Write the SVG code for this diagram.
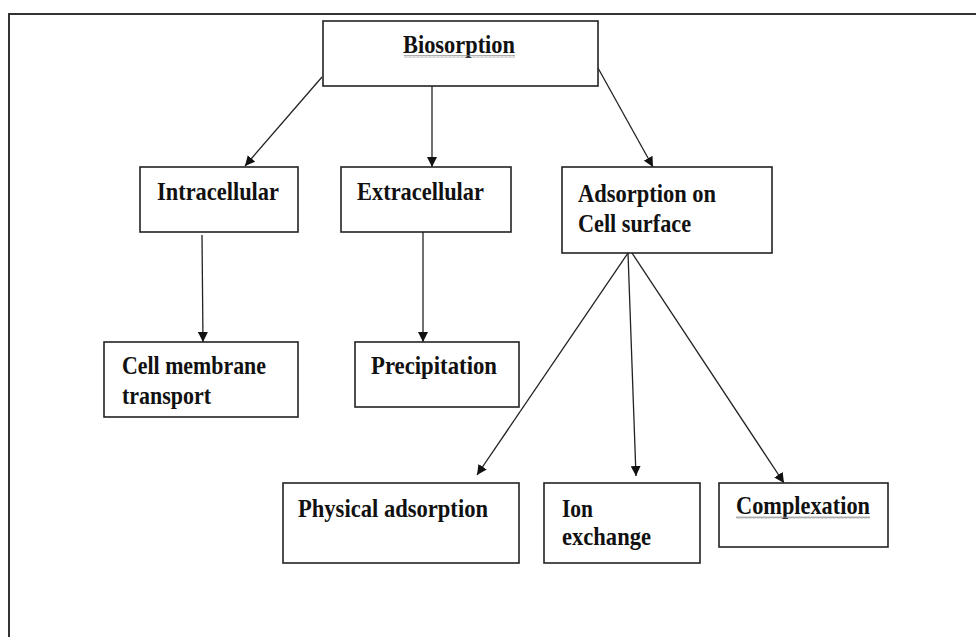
<svg xmlns="http://www.w3.org/2000/svg" width="976" height="637" viewBox="0 0 976 637">
<defs>
<marker id="ah" viewBox="0 0 10 10" refX="10" refY="5" markerWidth="10" markerHeight="10" markerUnits="userSpaceOnUse" orient="auto">
<path d="M0,0 L10,5 L0,10 Z" fill="#111"/>
</marker>
<pattern id="wave" width="4" height="3" patternUnits="userSpaceOnUse">
<path d="M0,2.5 L1,0.5 L2,2.5 L3,0.5 L4,2.5" fill="none" stroke="#888" stroke-width="0.7"/>
</pattern>
</defs>
<style>
.box{fill:#fff;stroke:#222;stroke-width:1.6}
.t{font-family:"Liberation Serif","Times New Roman",serif;font-weight:bold;font-size:26px;fill:#111}
.c{stroke:#222;stroke-width:1.3;fill:none;marker-end:url(#ah)}
.frame{stroke:#333;stroke-width:2;fill:none}
</style>
<rect width="976" height="637" fill="#fff"/>
<path class="frame" d="M9,637 L9,14 L976,14"/>
<g id="connectors">
<line class="c" x1="322" y1="77" x2="245" y2="166"/>
<line class="c" x1="432" y1="86" x2="432" y2="167"/>
<line class="c" x1="598" y1="68" x2="653" y2="167"/>
<line class="c" x1="202" y1="235" x2="203" y2="342"/>
<line class="c" x1="423" y1="232" x2="423" y2="342"/>
<line class="c" x1="628" y1="253" x2="477" y2="475"/>
<line class="c" x1="628" y1="253" x2="636" y2="476"/>
<line class="c" x1="632" y1="253" x2="784" y2="483"/>
</g>
<g id="biosorption">
<rect class="box" x="323" y="21" width="275" height="65"/>
<text class="t" x="403" y="53" textLength="112" lengthAdjust="spacingAndGlyphs">Biosorption</text>
<rect x="404" y="55" width="111" height="3" fill="url(#wave)"/>
</g>
<g id="intracellular">
<rect class="box" x="140" y="167" width="158" height="65"/>
<text class="t" x="157" y="200" textLength="122" lengthAdjust="spacingAndGlyphs">Intracellular</text>
</g>
<g id="extracellular">
<rect class="box" x="341" y="167" width="170" height="65"/>
<text class="t" x="357" y="200" textLength="127" lengthAdjust="spacingAndGlyphs">Extracellular</text>
</g>
<g id="adsorption">
<rect class="box" x="562" y="167" width="210" height="86"/>
<text class="t" x="578" y="202" textLength="138" lengthAdjust="spacingAndGlyphs">Adsorption on</text>
<text class="t" x="578" y="232" textLength="113" lengthAdjust="spacingAndGlyphs">Cell surface</text>
</g>
<g id="cell-membrane">
<rect class="box" x="104" y="342" width="194" height="75"/>
<text class="t" x="122" y="374" textLength="144" lengthAdjust="spacingAndGlyphs">Cell membrane</text>
<text class="t" x="122" y="404" textLength="89" lengthAdjust="spacingAndGlyphs">transport</text>
</g>
<g id="precipitation">
<rect class="box" x="355" y="342" width="164" height="65"/>
<text class="t" x="371" y="374" textLength="126" lengthAdjust="spacingAndGlyphs">Precipitation</text>
</g>
<g id="physical">
<rect class="box" x="283" y="483" width="236" height="80"/>
<text class="t" x="298" y="517" textLength="190" lengthAdjust="spacingAndGlyphs">Physical adsorption</text>
</g>
<g id="ion">
<rect class="box" x="544" y="483" width="156" height="80"/>
<text class="t" x="562" y="517" textLength="31" lengthAdjust="spacingAndGlyphs">Ion</text>
<text class="t" x="562" y="545" textLength="89" lengthAdjust="spacingAndGlyphs">exchange</text>
</g>
<g id="complexation">
<rect class="box" x="719" y="483" width="169" height="64"/>
<text class="t" x="736" y="514" textLength="134" lengthAdjust="spacingAndGlyphs">Complexation</text>
<rect x="736" y="516" width="134" height="3" fill="url(#wave)"/>
</g>
</svg>
